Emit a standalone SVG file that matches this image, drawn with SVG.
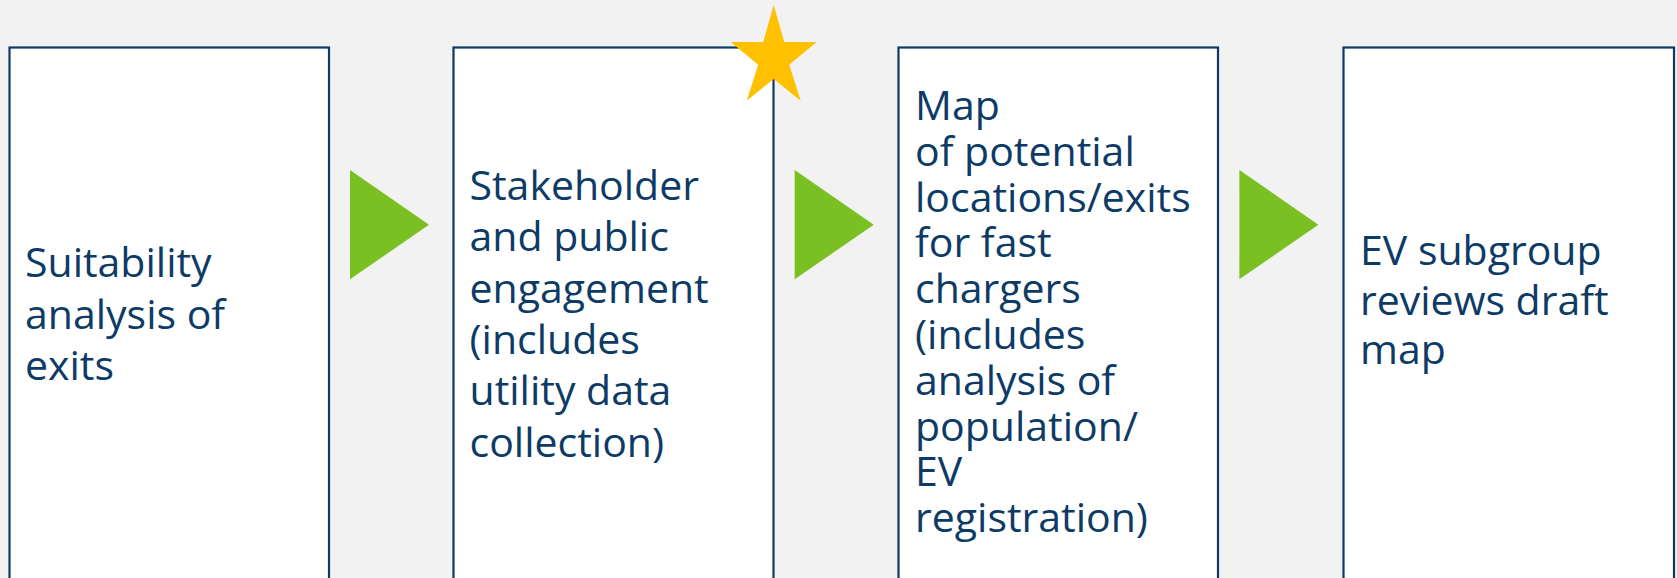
<svg xmlns="http://www.w3.org/2000/svg" width="1677" height="578" viewBox="0 0 1677 578">
<style>
.box{fill:#FFFFFF;stroke:#0D3B66;stroke-width:2.2}
.lbl{font-family:"Open Sans","Noto Sans",sans-serif;font-size:41px;fill:#0D3B66}
.arrow{fill:#7AC022}
.star{fill:#FFC000}
</style>
<rect x="0" y="0" width="1677" height="578" fill="#F2F2F2"/>
<g id="connectors">
<polygon class="arrow" points="350,170 429,224.7 350,279.3"/>
<polygon class="arrow" points="794.7,170 873.7,224.7 794.7,279.3"/>
<polygon class="arrow" points="1239.4,170 1318.4,224.7 1239.4,279.3"/>
</g>
<g id="node1">
<rect class="box" x="9.5" y="47.5" width="319.5" height="560"/>
<text class="lbl" x="25"><tspan x="25" y="276.7">Suitability</tspan><tspan x="25" y="328.5">analysis of</tspan><tspan x="25" y="380">exits</tspan></text>
</g>
<g id="node2">
<rect class="box" x="453.5" y="47.5" width="320" height="560"/>
<text class="lbl"><tspan x="469.5" y="200">Stakeholder</tspan><tspan x="469.5" y="251.3">and public</tspan><tspan x="469.5" y="302.6">engagement</tspan><tspan x="469.5" y="353.9">(includes</tspan><tspan x="469.5" y="405.2">utility data</tspan><tspan x="469.5" y="456.5">collection)</tspan></text>
</g>
<g id="node3">
<rect class="box" x="898.5" y="47.5" width="319.5" height="560"/>
<text class="lbl"><tspan x="915" y="120">Map</tspan><tspan x="915" y="165.8">of potential</tspan><tspan x="915" y="211.6">locations/exits</tspan><tspan x="915" y="257.4">for fast</tspan><tspan x="915" y="303.2">chargers</tspan><tspan x="915" y="349">(includes</tspan><tspan x="915" y="394.8">analysis of</tspan><tspan x="915" y="440.6">population/</tspan><tspan x="915" y="486.4">EV</tspan><tspan x="915" y="532.2">registration)</tspan></text>
</g>
<g id="node4">
<rect class="box" x="1343.5" y="47.5" width="330.5" height="560"/>
<text class="lbl"><tspan x="1360" y="265">EV subgroup</tspan><tspan x="1360" y="315">reviews draft</tspan><tspan x="1360" y="364">map</tspan></text>
</g>
<g id="star">
<polygon class="star" points="773.7,5 784.2,42 816.7,42 789.2,64.8 800.7,100.7 773.7,78.9 746.7,100.7 758.2,64.8 730.7,42 763.2,42"/>
</g>
</svg>
